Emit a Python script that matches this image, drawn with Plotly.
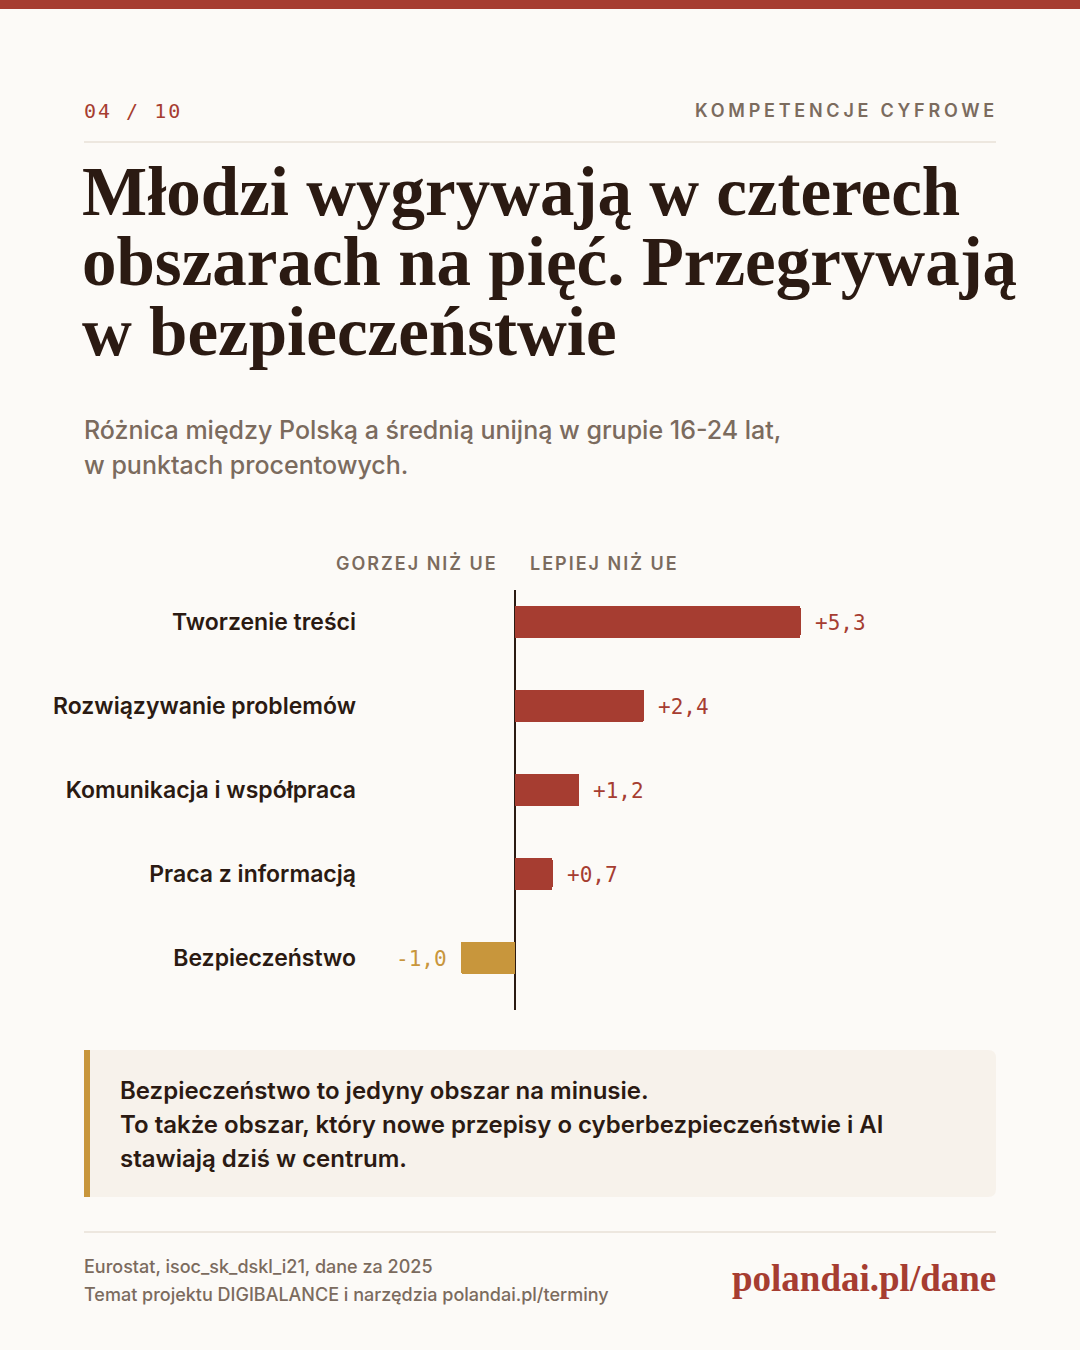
import plotly.graph_objects as go

# ---- data ----
categories = ["Tworzenie treści", "Rozwiązywanie problemów", "Komunikacja i współpraca",
              "Praca z informacją", "Bezpieczeństwo"]
values = [5.3, 2.4, 1.2, 0.7, -1.0]
value_labels = ["+5,3", "+2,4", "+1,2", "+0,7", "-1,0"]

W, H = 1080, 1350
BG = "#FCFAF7"
RED = "#A63D31"
GOLD = "#C8963C"
DARK = "#2B1A12"
MUTED = "#7B6B5E"
LINE = "#EDE7DF"
SANS = "Inter"
SERIF = "Liberation Serif"
MONO = "DejaVu Sans Mono"

def px(x):
    return x / W

def py(y):
    return 1 - y / H

ypos = list(range(len(categories)))
colors = [RED if v >= 0 else GOLD for v in values]

fig = go.Figure()
fig.add_trace(go.Bar(
    x=values, y=ypos, orientation="h",
    marker=dict(color=colors, line=dict(width=0), cornerradius=3),
    width=0.39, hoverinfo="skip", showlegend=False,
))

annotations = []

def ann(x, y, text, size, color, font=SANS, weight=400, xanchor="left", yanchor="middle", **kw):
    annotations.append(dict(
        x=px(x), y=py(y), xref="paper", yref="paper", text=text, showarrow=False,
        xanchor=xanchor, yanchor=yanchor,
        font=dict(family=font, size=size, color=color, weight=weight), **kw))

# header
ann(82, 111, '<span style="letter-spacing:2px">04 / 10</span>', 20, RED, font=MONO)
ann(1000, 111, '<span style="letter-spacing:3.75px">KOMPETENCJE CYFROWE</span>', 18, MUTED,
    weight=600, xanchor="right")

# title
title_lines = ["Młodzi wygrywają w czterech", "obszarach na pięć. Przegrywają",
               "w bezpieczeństwie"]
for i, t in enumerate(title_lines):
    ann(80, 192 + 70 * i, t, 69, DARK, font=SERIF, weight=700)

# subtitle
ann(82, 430, "Różnica między Polską a średnią unijną w grupie 16-24 lat,", 25, MUTED, weight=500)
ann(82, 465, "w punktach procentowych.", 25, MUTED, weight=500)

# column headers
ann(500, 563, '<span style="letter-spacing:2px">GORZEJ NIŻ UE</span>', 18, MUTED,
    weight=600, xanchor="right")
ann(528, 563, '<span style="letter-spacing:2px">LEPIEJ NIŻ UE</span>', 18, MUTED,
    weight=600)

# value labels
for i, (v, lab) in enumerate(zip(values, value_labels)):
    annotations.append(dict(
        x=v, y=i, xref="x", yref="y", text=lab, showarrow=False,
        xanchor="left" if v >= 0 else "right", yanchor="middle",
        xshift=12 if v >= 0 else -12, yshift=-1,
        font=dict(family=MONO, size=21, color=RED if v >= 0 else GOLD)))

# callout text
callout = ["Bezpieczeństwo to jedyny obszar na minusie.",
           "To także obszar, który nowe przepisy o cyberbezpieczeństwie i AI",
           "stawiają dziś w centrum."]
for i, t in enumerate(callout):
    ann(118, 1090 + 34 * i, t, 24, DARK, weight=600)

# footer
ann(82, 1266, "Eurostat, isoc_sk_dskl_i21, dane za 2025", 18, MUTED, weight=500)
ann(82, 1294, "Temat projektu DIGIBALANCE i narzędzia polandai.pl/terminy", 18, MUTED, weight=500)
ann(998, 1278, "polandai.pl/dane", 37, RED, font=SERIF, weight=700, xanchor="right")

# shapes
def rect(x0, y0, x1, y1, color):
    return dict(type="rect", xref="paper", yref="paper", x0=px(x0), x1=px(x1),
                y0=py(y1), y1=py(y0), fillcolor=color, line=dict(width=0), layer="below")

def hline(x0, x1, y, color, width=2):
    return dict(type="line", xref="paper", yref="paper", x0=px(x0), x1=px(x1),
                y0=py(y), y1=py(y), line=dict(color=color, width=width))

r = 8
x0, x1, y0, y1 = 84, 996, 1050, 1197
box_path = (f"M {px(x0)},{py(y0)} L {px(x1 - r)},{py(y0)} "
            f"Q {px(x1)},{py(y0)} {px(x1)},{py(y0 + r)} "
            f"L {px(x1)},{py(y1 - r)} Q {px(x1)},{py(y1)} {px(x1 - r)},{py(y1)} "
            f"L {px(x0)},{py(y1)} Z")

shapes = [
    rect(0, 0, W, 9, RED),
    hline(84, 996, 142, LINE),
    dict(type="path", xref="paper", yref="paper", path=box_path,
         fillcolor="#F7F2EB", line=dict(width=0), layer="below"),
    rect(84, 1050, 90, 1197, GOLD),
    hline(84, 996, 1232, LINE),
]

fig.update_layout(
    width=W, height=H, autosize=False,
    margin=dict(l=0, r=0, t=0, b=0),
    paper_bgcolor=BG, plot_bgcolor="rgba(0,0,0,0)",
    annotations=annotations, shapes=shapes,
    bargap=0,
    xaxis=dict(domain=[px(380), px(1000)], range=[-2.5, 9.0],
               showgrid=False, showticklabels=False, ticks="",
               zeroline=True, zerolinecolor=DARK, zerolinewidth=2, fixedrange=True),
    yaxis=dict(domain=[py(1010), py(590)], range=[4.62, -0.38],
               tickmode="array", tickvals=ypos, ticktext=categories,
               showgrid=False, zeroline=False, ticks="", ticklabelstandoff=23,
               tickfont=dict(family=SANS, size=23, color=DARK, weight=600),
               fixedrange=True),
)

fig.write_html(
    "out.html",
    config={"displayModeBar": False, "staticPlot": True},
    post_script="document.body.style.margin='0';document.body.style.overflow='hidden';"
                "document.body.style.background='" + BG + "';",
)
